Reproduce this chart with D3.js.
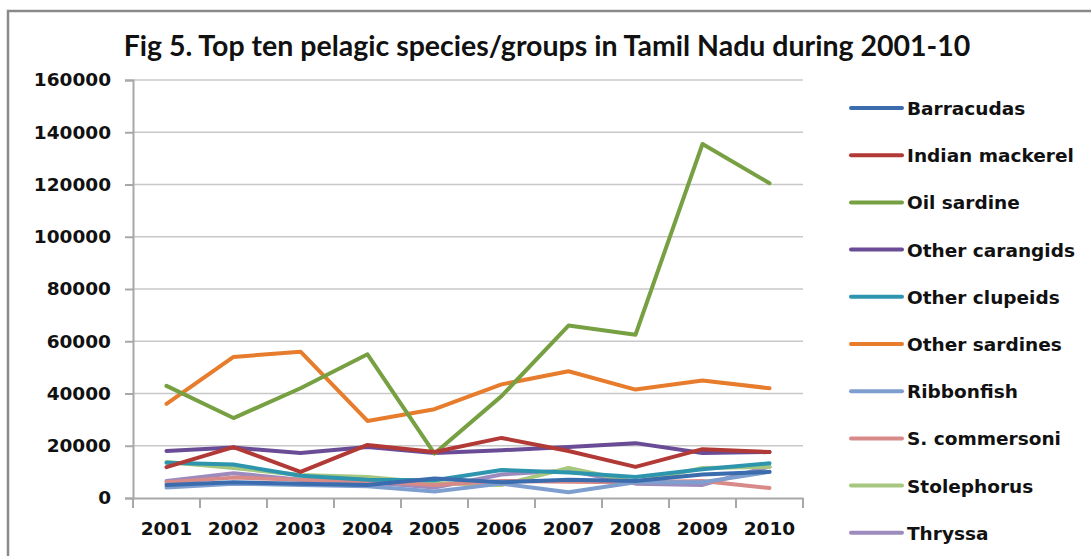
<!DOCTYPE html>
<html>
<head>
<meta charset="utf-8">
<script src="https://cdn.jsdelivr.net/npm/d3@7"></script>
<style>
  body { margin: 0; background: #fff; }
  text { font-family: "DejaVu Sans", sans-serif; }
</style>
</head>
<body>
<div id="chart"></div>
<script>
// years on the x axis
var years = ["2001","2002","2003","2004","2005","2006","2007","2008","2009","2010"];
var yTicks = [0,20000,40000,60000,80000,100000,120000,140000,160000];

// catch per species
var barracudas    = [5000, 6000, 5500, 5000, 7500, 6000, 7000, 6500, 9000, 10000];
var indianMack    = [11800, 19500, 10000, 20300, 17600, 23000, 18000, 11900, 18700, 17600];
var oilSardine    = [42900, 30600, 42000, 55000, 17000, 39000, 66000, 62500, 135500, 120500];
var otherCarang   = [18000, 19300, 17200, 19500, 17200, 18300, 19500, 21000, 17200, 17600];
var otherClupeids = [13500, 12800, 8500, 7000, 6800, 10700, 9800, 8000, 11000, 13300];
var otherSardines = [36000, 54000, 56000, 29500, 34000, 43500, 48500, 41500, 45000, 42000];
var ribbonfish    = [4000, 5500, 5000, 4500, 2500, 5500, 2200, 6000, 6000, 10000];
var sCommersoni   = [6000, 7800, 7000, 6500, 5000, 6500, 6200, 6000, 6500, 3800];
var stolephorus   = [13800, 11500, 8800, 8000, 5700, 5000, 11500, 6100, 11500, 11900];
var thryssa       = [6500, 9500, 7000, 6000, 4000, 9000, 10500, 5500, 5000, 12000];

var names  = ["Barracudas","Indian mackerel","Oil sardine","Other carangids","Other clupeids",
              "Other sardines","Ribbonfish","S. commersoni","Stolephorus","Thryssa"];
var colors = ["#3b6cae","#b23a36","#77a043","#6a4b96","#2e95ae",
              "#e67c2c","#7d9ece","#d88a88","#a6c77f","#9d8bbe"];
var values = [barracudas, indianMack, oilSardine, otherCarang, otherClupeids,
              otherSardines, ribbonfish, sCommersoni, stolephorus, thryssa];

var W = 1091, H = 556;
var svg = d3.select("#chart").append("svg").attr("width", W).attr("height", H);

// outer frame
svg.append("rect").attr("x", 8).attr("y", 11).attr("width", W).attr("height", H)
   .attr("fill", "none").attr("stroke", "#8a8a8a").attr("stroke-width", 2.5);

svg.append("text").attr("x", 547).attr("y", 56).attr("text-anchor", "middle")
   .attr("font-size", "28.5px").attr("font-weight", "bold").attr("fill", "#111")
   .style("font-family", "Lato, sans-serif")
   .text("Fig 5. Top ten pelagic species/groups in Tamil Nadu during 2001-10");

var x = d3.scaleBand().domain(years).range([133, 803]);
var y = d3.scaleLinear().domain([0, 160000]).range([498, 80]);

// gridlines
svg.append("g").selectAll("line").data(yTicks.slice(1)).enter().append("line")
   .attr("x1", 133).attr("x2", 803)
   .attr("y1", function(d){ return y(d); }).attr("y2", function(d){ return y(d); })
   .attr("stroke", "#c8c8c8").attr("stroke-width", 1.5);

var yAxis = svg.append("g").attr("transform", "translate(133,0)")
   .call(d3.axisLeft(y).tickValues(yTicks).tickSize(8).tickPadding(14).tickFormat(d3.format("d")));
var xAxis = svg.append("g").attr("transform", "translate(0,498)")
   .call(d3.axisBottom(x).tickSize(0).tickPadding(24));
[yAxis, xAxis].forEach(function(a){
  a.select(".domain").attr("stroke", "#a8a8a8").attr("stroke-width", 2);
  a.selectAll("line").attr("stroke", "#a8a8a8").attr("stroke-width", 2);
  a.selectAll("text").attr("font-size", "18.5px").attr("font-weight", "bold").attr("fill", "#111")
   .style("font-family", "'DejaVu Sans', sans-serif");
});
// category boundary ticks
xAxis.selectAll(".bt").data(years.concat(["end"])).enter().append("line")
   .attr("x1", function(d, i){ return 133 + i * x.bandwidth(); })
   .attr("x2", function(d, i){ return 133 + i * x.bandwidth(); })
   .attr("y1", 0).attr("y2", 10)
   .attr("stroke", "#a8a8a8").attr("stroke-width", 2);

var line = d3.line()
   .x(function(d, i){ return x(years[i]) + x.bandwidth() / 2; })
   .y(function(d){ return y(d); });

// draw in reverse so the first series sit on top, like Excel
svg.append("g").selectAll("path").data(d3.range(values.length).reverse()).enter().append("path")
   .attr("d", function(k){ return line(values[k]); })
   .attr("fill", "none").attr("stroke", function(k){ return colors[k]; })
   .attr("stroke-width", 4).attr("stroke-linejoin", "round").attr("stroke-linecap", "round");

// legend
var leg = svg.append("g").selectAll("g").data(names).enter().append("g")
   .attr("transform", function(d, i){ return "translate(851," + (108 + i * 47.2) + ")"; });
leg.append("line").attr("x1", 0).attr("x2", 51).attr("y1", 0).attr("y2", 0)
   .attr("stroke", function(d, i){ return colors[i]; }).attr("stroke-width", 4)
   .attr("stroke-linecap", "round");
leg.append("text").attr("x", 56).attr("y", 7).attr("font-size", "18.5px")
   .attr("font-weight", "bold").attr("fill", "#111").text(function(d){ return d; });
</script>
</body>
</html>
